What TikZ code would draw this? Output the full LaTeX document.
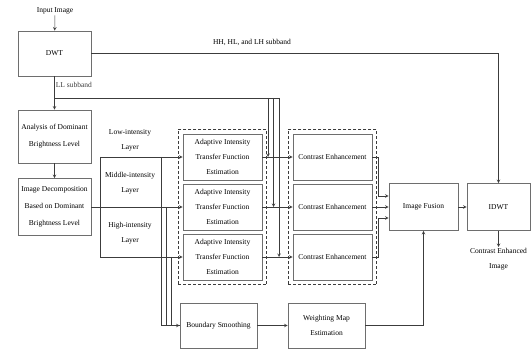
\documentclass[tikz,border=0pt]{standalone}
\usepackage{fontspec}
\setmainfont{Liberation Serif}
\usepackage{tikz}
\usetikzlibrary{arrows,shapes,positioning,calc,fit}
\definecolor{linegray}{RGB}{60,60,60}
\definecolor{boxgray}{RGB}{110,110,110}
\tikzstyle{arrow} = [line width=0.6pt,->,>=stealth,color=linegray]
\tikzstyle{wire} = [line width=0.6pt,color=linegray]
\tikzstyle{block} = [rectangle, draw=boxgray, line width=0.7pt, text centered, align=center, inner sep=1pt, font=\fontsize{7.5}{15}\selectfont]
\tikzstyle{leftblock} = [block, minimum width=73pt, font=\fontsize{7.5}{17}\selectfont]
\tikzstyle{txt} = [align=center, inner sep=1pt, font=\fontsize{7.5}{15}\selectfont]
\tikzstyle{group} = [rectangle, draw=linegray, densely dashed, line width=0.9pt, inner sep=4.5pt]

\begin{document}
\begin{tikzpicture}[x=1pt,y=-1pt]
    \useasboundingbox (0,0) rectangle (532,352);

    % DWT
    \node[txt] (input) at (55,11) {Input Image};
    \node[leftblock, minimum height=45pt] (dwt) at (54.5,53.5) {DWT};

    % Left column
    \node[leftblock, minimum height=53pt] (analysis) at (54.5,136.5) {Analysis of Dominant\\Brightness Level};
    \node[leftblock, minimum height=57pt] (decomp) at (54.5,207) {Image Decomposition\\Based on Dominant\\Brightness Level};

    % Layers
    \coordinate (lay1) at (100,157);
    \coordinate (lay2) at (100,207);
    \coordinate (lay3) at (100,257);
    \node[txt] (lowlayer) at (130,140) {Low-intensity\\Layer};
    \node[txt] (midlayer) at (130,183) {Middle-intensity\\Layer};
    \node[txt] (highlayer) at (130,233) {High-intensity\\Layer};

    % Transfer function estimation
    \node[block, minimum width=79pt, minimum height=46pt] (atf1) at (222.5,157) {Adaptive Intensity\\Transfer Function\\Estimation};
    \node[block, minimum width=79pt, minimum height=46pt] (atf2) at (222.5,207) {Adaptive Intensity\\Transfer Function\\Estimation};
    \node[block, minimum width=79pt, minimum height=46pt] (atf3) at (222.5,257) {Adaptive Intensity\\Transfer Function\\Estimation};
    \node[group, fit=(atf1)(atf3)] (atfgroup) {};

    % Contrast enhancement
    \node[block, minimum width=79pt, minimum height=46pt] (ce1) at (332.5,157) {Contrast Enhancement};
    \node[block, minimum width=79pt, minimum height=46pt] (ce2) at (332.5,207) {Contrast Enhancement};
    \node[block, minimum width=79pt, minimum height=46pt] (ce3) at (332.5,257) {Contrast Enhancement};
    \node[group, fit=(ce1)(ce3)] (cegroup) {};

    % Fusion and IDWT
    \node[block, minimum width=69pt, minimum height=47pt] (fusion) at (423.5,207) {Image Fusion};
    \node[block, minimum width=63pt, minimum height=47pt] (idwt) at (498.5,207) {IDWT};
    \node[txt, anchor=north] (output) at (498.5,247) {Contrast Enhanced\\Image};

    % Weighting
    \node[block, minimum width=77pt, minimum height=45pt] (smooth) at (218.5,325.5) {Boundary Smoothing};
    \node[block, minimum width=77pt, minimum height=45pt] (weight) at (326.5,325.5) {Weighting Map\\Estimation};

    % Arrows
    \draw[arrow] (input) -- (dwt);
    \draw[arrow] (dwt.east) -| (idwt.north);
    \node[txt] (hhlabel) at (252,42) {HH, HL, and LH subband};
    \draw[arrow] (dwt) -- (analysis) node[pos=0.25, right, txt] {LL subband};
    \draw[arrow] (analysis) -- (decomp);

    \coordinate (ll0) at (54.5,98);
    \coordinate (ll1) at (268,98);
    \coordinate (ll2) at (273.5,98);
    \coordinate (ll3) at (279,98);
    \draw[wire] (ll0) -- (ll3);
    \draw[arrow] (ll1) -- (ll1 |- ce1.west);
    \draw[arrow] (ll2) -- (ll2 |- ce2.west);
    \draw[arrow] (ll3) -- (ll3 |- ce3.west);

    \draw[wire] (decomp.east) -- (lay2);
    \draw[wire] (lay1) -- (lay3);
    \draw[arrow] (lay1) -- (atf1);
    \draw[arrow] (lay2) -- (atf2);
    \draw[arrow] (lay3) -- (atf3);

    \coordinate (drop1) at (161,157);
    \coordinate (drop2) at (166,207);
    \coordinate (drop3) at (171,257);
    \draw[wire] (drop1) |- (smooth.west);
    \draw[wire] (drop2) |- (smooth.west);
    \draw[arrow] (drop3) |- (smooth.west);

    \draw[arrow] (atf1) -- (ce1);
    \draw[arrow] (atf2) -- (ce2);
    \draw[arrow] (atf3) -- (ce3);

    \coordinate (fin1) at ($(fusion.west)+(0,-11)$);
    \coordinate (fin3) at ($(fusion.west)+(0,11)$);
    \draw[arrow] (ce1.east) -- ++(6,0) |- (fin1);
    \draw[arrow] (ce2) -- (fusion);
    \draw[arrow] (ce3.east) -- ++(6,0) |- (fin3);

    \draw[arrow] (fusion) -- (idwt);
    \draw[arrow] (idwt) -- (output);
    \draw[arrow] (smooth) -- (weight);
    \draw[arrow] (weight.east) -| (fusion.south);
\end{tikzpicture}
\end{document}
